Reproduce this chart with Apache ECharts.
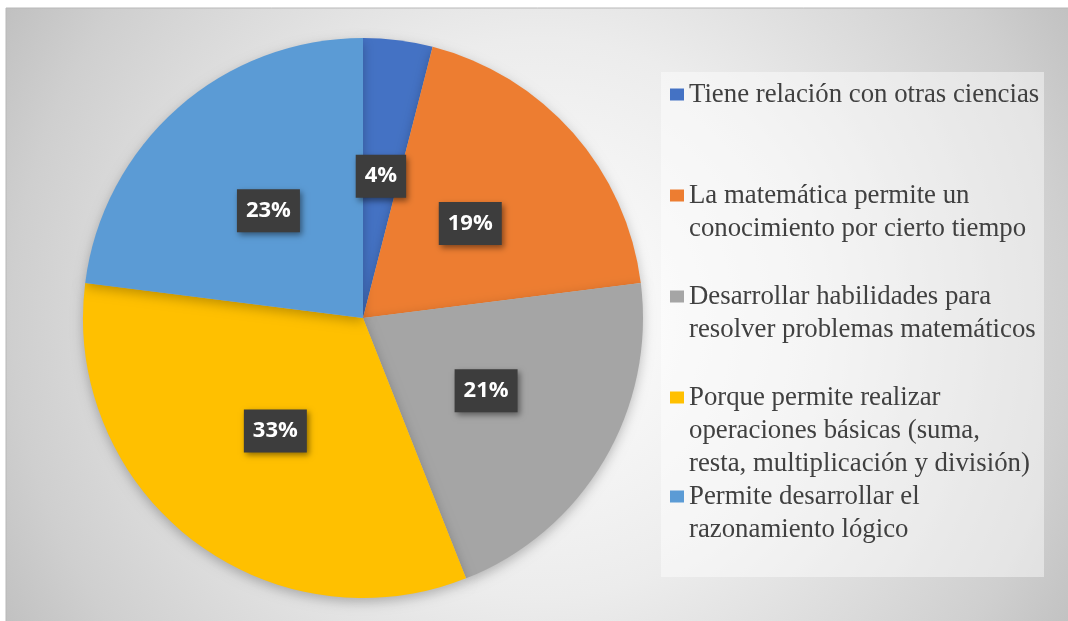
<!DOCTYPE html>
<html>
<head>
<meta charset="utf-8">
<script src="https://cdn.jsdelivr.net/npm/echarts@6/dist/echarts.min.js"></script>
<style>
  html, body { margin: 0; padding: 0; background: #fff; }
  #chart { width: 1068px; height: 621px; }
</style>
</head>
<body>
<div id="chart"></div>
<script>
// datos del gráfico (porcentajes)
var categories = [
  'Tiene relación con otras ciencias',
  'La matemática permite un\nconocimiento por cierto tiempo',
  'Desarrollar habilidades para\nresolver problemas matemáticos',
  'Porque permite realizar\noperaciones básicas (suma,\nresta, multiplicación y división)',
  'Permite desarrollar el\nrazonamiento lógico'
];
var values = [4, 19, 21, 33, 23];
var colors = ['#4472C4', '#ED7D31', '#A5A5A5', '#FFC000', '#5B9BD5'];

var chart = echarts.init(document.getElementById('chart'));

var pieData = categories.map(function (name, i) {
  return { name: name, value: values[i], itemStyle: { color: colors[i] } };
});

// estilos rich para la leyenda: cuadrado de color en la primera línea
var rich = {
  t: { fontFamily: 'Liberation Serif', fontSize: 26.8, lineHeight: 33, color: '#404040' },
  g: { width: 5 },
  i: { width: 19 }
};
colors.forEach(function (c, i) {
  rich['s' + i] = { width: 14, height: 12, backgroundColor: c };
});

var legendTops = [81, 182, 283, 384, 483];
var legends = categories.map(function (name, i) {
  return {
    data: [name],
    orient: 'vertical',
    left: 665,
    top: legendTops[i],
    padding: 0,
    icon: 'none',
    itemWidth: 0,
    itemGap: 0,
    selectedMode: false,
    formatter: function (n) {
      var lines = n.split('\n');
      return lines.map(function (l, k) {
        return (k === 0 ? '{s' + i + '|}{g|}' : '{i|}') + '{t|' + l + '}';
      }).join('\n');
    },
    textStyle: { rich: rich }
  };
});

var option = {
  backgroundColor: '#ffffff',
  animation: false,
  graphic: [
    {
      type: 'rect',
      z: -10,
      shape: { x: 6, y: 8, width: 1070, height: 620 },
      style: {
        fill: new echarts.graphic.RadialGradient(0.5, 0.5, 1, [
          { offset: 0, color: '#ffffff' },
          { offset: 0.45, color: '#ececec' },
          { offset: 0.85, color: '#cfcfcf' },
          { offset: 1, color: '#c0c0c0' }
        ]),
        stroke: '#b8b8b8',
        lineWidth: 1
      }
    },
    {
      type: 'rect',
      z: -9,
      shape: { x: 661, y: 72, width: 383, height: 505 },
      style: { fill: 'rgba(255,255,255,0.45)' }
    }
  ],
  legend: legends,
  series: [
    {
      type: 'pie',
      center: [363, 318],
      radius: [0, 280],
      startAngle: 90,
      clockwise: true,
      data: pieData,
      itemStyle: {
        borderWidth: 0,
        shadowBlur: 12,
        shadowColor: 'rgba(0,0,0,0.25)',
        shadowOffsetY: 4
      },
      label: {
        show: true,
        position: 'inside',
        formatter: '{c}%',
        fontFamily: 'Open Sans',
        fontWeight: 'bold',
        fontSize: 22,
        color: '#ffffff',
        backgroundColor: '#3d3d3d',
        padding: [11, 9, 10, 9],
        shadowColor: 'rgba(0,0,0,0.45)',
        shadowBlur: 6,
        shadowOffsetX: 2,
        shadowOffsetY: 3
      },
      labelLine: { show: false },
      emphasis: { disabled: true }
    }
  ]
};

chart.setOption(option);
</script>
</body>
</html>
